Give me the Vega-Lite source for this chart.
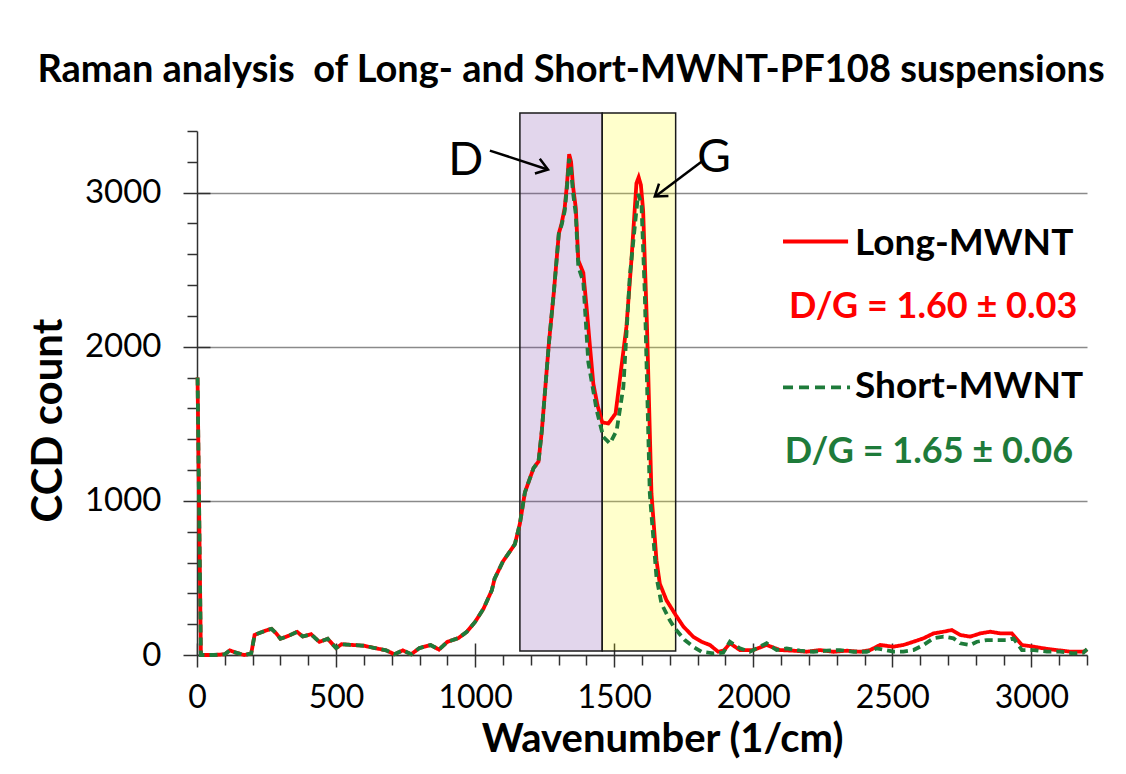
{
  "$schema": "https://vega.github.io/schema/vega-lite/v6.json",
  "width": 890,
  "height": 524,
  "autosize": "none",
  "padding": {"left": 197, "top": 131, "right": 39, "bottom": 119},
  "background": "white",
  "config": {"view": {"stroke": null}, "font": "Lato"},
  "title": {"text": "Raman analysis\u00a0 of Long- and Short-MWNT-PF108 suspensions", "font": "Lato", "fontSize": 38, "fontWeight": "bold", "color": "black", "anchor": "middle", "offset": 22, "dx": -71},
  "datasets": {
    "spectra": [
      {"x": 2, "y": 1800, "s": "Long"}, {"x": 14, "y": 0, "s": "Long"}, {"x": 60, "y": 0, "s": "Long"}, {"x": 100, "y": 5, "s": "Long"}, {"x": 118, "y": 30, "s": "Long"}, {"x": 140, "y": 15, "s": "Long"}, {"x": 170, "y": 0, "s": "Long"}, {"x": 195, "y": 10, "s": "Long"}, {"x": 207, "y": 130, "s": "Long"}, {"x": 220, "y": 140, "s": "Long"}, {"x": 250, "y": 160, "s": "Long"}, {"x": 268, "y": 170, "s": "Long"}, {"x": 285, "y": 140, "s": "Long"}, {"x": 300, "y": 105, "s": "Long"}, {"x": 330, "y": 125, "s": "Long"}, {"x": 360, "y": 150, "s": "Long"}, {"x": 380, "y": 120, "s": "Long"}, {"x": 410, "y": 135, "s": "Long"}, {"x": 440, "y": 85, "s": "Long"}, {"x": 470, "y": 105, "s": "Long"}, {"x": 500, "y": 45, "s": "Long"}, {"x": 520, "y": 70, "s": "Long"}, {"x": 560, "y": 65, "s": "Long"}, {"x": 600, "y": 60, "s": "Long"}, {"x": 640, "y": 45, "s": "Long"}, {"x": 680, "y": 30, "s": "Long"}, {"x": 710, "y": 5, "s": "Long"}, {"x": 740, "y": 30, "s": "Long"}, {"x": 770, "y": 5, "s": "Long"}, {"x": 800, "y": 45, "s": "Long"}, {"x": 840, "y": 65, "s": "Long"}, {"x": 870, "y": 35, "s": "Long"}, {"x": 900, "y": 85, "s": "Long"}, {"x": 940, "y": 110, "s": "Long"}, {"x": 970, "y": 150, "s": "Long"}, {"x": 1000, "y": 215, "s": "Long"}, {"x": 1030, "y": 300, "s": "Long"}, {"x": 1060, "y": 420, "s": "Long"}, {"x": 1070, "y": 495, "s": "Long"}, {"x": 1100, "y": 607, "s": "Long"}, {"x": 1143, "y": 719, "s": "Long"}, {"x": 1161, "y": 853, "s": "Long"}, {"x": 1179, "y": 1055, "s": "Long"}, {"x": 1210, "y": 1212, "s": "Long"}, {"x": 1228, "y": 1256, "s": "Long"}, {"x": 1240, "y": 1458, "s": "Long"}, {"x": 1252, "y": 1727, "s": "Long"}, {"x": 1265, "y": 2018, "s": "Long"}, {"x": 1283, "y": 2354, "s": "Long"}, {"x": 1301, "y": 2735, "s": "Long"}, {"x": 1311, "y": 2800, "s": "Long"}, {"x": 1322, "y": 2900, "s": "Long"}, {"x": 1330, "y": 3050, "s": "Long"}, {"x": 1338, "y": 3250, "s": "Long"}, {"x": 1345, "y": 3200, "s": "Long"}, {"x": 1352, "y": 3040, "s": "Long"}, {"x": 1362, "y": 2900, "s": "Long"}, {"x": 1371, "y": 2560, "s": "Long"}, {"x": 1389, "y": 2480, "s": "Long"}, {"x": 1401, "y": 2250, "s": "Long"}, {"x": 1413, "y": 2000, "s": "Long"}, {"x": 1425, "y": 1760, "s": "Long"}, {"x": 1440, "y": 1620, "s": "Long"}, {"x": 1457, "y": 1510, "s": "Long"}, {"x": 1479, "y": 1502, "s": "Long"}, {"x": 1505, "y": 1567, "s": "Long"}, {"x": 1526, "y": 1870, "s": "Long"}, {"x": 1544, "y": 2130, "s": "Long"}, {"x": 1562, "y": 2563, "s": "Long"}, {"x": 1580, "y": 3061, "s": "Long"}, {"x": 1588, "y": 3100, "s": "Long"}, {"x": 1596, "y": 3050, "s": "Long"}, {"x": 1604, "y": 2887, "s": "Long"}, {"x": 1618, "y": 2130, "s": "Long"}, {"x": 1634, "y": 1048, "s": "Long"}, {"x": 1652, "y": 615, "s": "Long"}, {"x": 1664, "y": 463, "s": "Long"}, {"x": 1688, "y": 355, "s": "Long"}, {"x": 1721, "y": 260, "s": "Long"}, {"x": 1749, "y": 184, "s": "Long"}, {"x": 1784, "y": 119, "s": "Long"}, {"x": 1814, "y": 86, "s": "Long"}, {"x": 1844, "y": 65, "s": "Long"}, {"x": 1874, "y": 21, "s": "Long"}, {"x": 1895, "y": 30, "s": "Long"}, {"x": 1916, "y": 76, "s": "Long"}, {"x": 1952, "y": 32, "s": "Long"}, {"x": 2000, "y": 32, "s": "Long"}, {"x": 2048, "y": 65, "s": "Long"}, {"x": 2096, "y": 32, "s": "Long"}, {"x": 2144, "y": 28, "s": "Long"}, {"x": 2192, "y": 21, "s": "Long"}, {"x": 2240, "y": 32, "s": "Long"}, {"x": 2288, "y": 21, "s": "Long"}, {"x": 2336, "y": 28, "s": "Long"}, {"x": 2384, "y": 21, "s": "Long"}, {"x": 2420, "y": 32, "s": "Long"}, {"x": 2456, "y": 65, "s": "Long"}, {"x": 2504, "y": 54, "s": "Long"}, {"x": 2540, "y": 65, "s": "Long"}, {"x": 2576, "y": 86, "s": "Long"}, {"x": 2612, "y": 108, "s": "Long"}, {"x": 2648, "y": 140, "s": "Long"}, {"x": 2684, "y": 151, "s": "Long"}, {"x": 2714, "y": 162, "s": "Long"}, {"x": 2744, "y": 130, "s": "Long"}, {"x": 2780, "y": 119, "s": "Long"}, {"x": 2816, "y": 140, "s": "Long"}, {"x": 2852, "y": 151, "s": "Long"}, {"x": 2888, "y": 140, "s": "Long"}, {"x": 2930, "y": 140, "s": "Long"}, {"x": 2966, "y": 65, "s": "Long"}, {"x": 3008, "y": 54, "s": "Long"}, {"x": 3044, "y": 43, "s": "Long"}, {"x": 3091, "y": 32, "s": "Long"}, {"x": 3139, "y": 22, "s": "Long"}, {"x": 3187, "y": 22, "s": "Long"}, {"x": 3200, "y": 32, "s": "Long"},
      {"x": 2, "y": 1800, "s": "Short"}, {"x": 14, "y": 0, "s": "Short"}, {"x": 60, "y": 0, "s": "Short"}, {"x": 100, "y": 5, "s": "Short"}, {"x": 118, "y": 30, "s": "Short"}, {"x": 140, "y": 15, "s": "Short"}, {"x": 170, "y": 0, "s": "Short"}, {"x": 195, "y": 10, "s": "Short"}, {"x": 207, "y": 130, "s": "Short"}, {"x": 220, "y": 140, "s": "Short"}, {"x": 250, "y": 160, "s": "Short"}, {"x": 268, "y": 170, "s": "Short"}, {"x": 285, "y": 140, "s": "Short"}, {"x": 300, "y": 105, "s": "Short"}, {"x": 330, "y": 125, "s": "Short"}, {"x": 360, "y": 150, "s": "Short"}, {"x": 380, "y": 120, "s": "Short"}, {"x": 410, "y": 135, "s": "Short"}, {"x": 440, "y": 85, "s": "Short"}, {"x": 470, "y": 105, "s": "Short"}, {"x": 500, "y": 45, "s": "Short"}, {"x": 520, "y": 70, "s": "Short"}, {"x": 560, "y": 65, "s": "Short"}, {"x": 600, "y": 60, "s": "Short"}, {"x": 640, "y": 45, "s": "Short"}, {"x": 680, "y": 30, "s": "Short"}, {"x": 710, "y": 5, "s": "Short"}, {"x": 740, "y": 30, "s": "Short"}, {"x": 770, "y": 5, "s": "Short"}, {"x": 800, "y": 45, "s": "Short"}, {"x": 840, "y": 65, "s": "Short"}, {"x": 870, "y": 35, "s": "Short"}, {"x": 900, "y": 85, "s": "Short"}, {"x": 940, "y": 110, "s": "Short"}, {"x": 970, "y": 150, "s": "Short"}, {"x": 1000, "y": 215, "s": "Short"}, {"x": 1030, "y": 300, "s": "Short"}, {"x": 1060, "y": 420, "s": "Short"}, {"x": 1070, "y": 495, "s": "Short"}, {"x": 1100, "y": 607, "s": "Short"}, {"x": 1143, "y": 719, "s": "Short"}, {"x": 1161, "y": 853, "s": "Short"}, {"x": 1179, "y": 1055, "s": "Short"}, {"x": 1210, "y": 1212, "s": "Short"}, {"x": 1228, "y": 1256, "s": "Short"}, {"x": 1240, "y": 1458, "s": "Short"}, {"x": 1252, "y": 1727, "s": "Short"}, {"x": 1265, "y": 2018, "s": "Short"}, {"x": 1283, "y": 2354, "s": "Short"}, {"x": 1301, "y": 2735, "s": "Short"}, {"x": 1311, "y": 2790, "s": "Short"}, {"x": 1322, "y": 2880, "s": "Short"}, {"x": 1330, "y": 3030, "s": "Short"}, {"x": 1338, "y": 3220, "s": "Short"}, {"x": 1345, "y": 3150, "s": "Short"}, {"x": 1352, "y": 3000, "s": "Short"}, {"x": 1362, "y": 2860, "s": "Short"}, {"x": 1371, "y": 2520, "s": "Short"}, {"x": 1389, "y": 2420, "s": "Short"}, {"x": 1407, "y": 1900, "s": "Short"}, {"x": 1437, "y": 1588, "s": "Short"}, {"x": 1461, "y": 1415, "s": "Short"}, {"x": 1485, "y": 1372, "s": "Short"}, {"x": 1509, "y": 1458, "s": "Short"}, {"x": 1533, "y": 1739, "s": "Short"}, {"x": 1556, "y": 2455, "s": "Short"}, {"x": 1574, "y": 2779, "s": "Short"}, {"x": 1586, "y": 2990, "s": "Short"}, {"x": 1598, "y": 2930, "s": "Short"}, {"x": 1610, "y": 2346, "s": "Short"}, {"x": 1628, "y": 1048, "s": "Short"}, {"x": 1652, "y": 506, "s": "Short"}, {"x": 1670, "y": 333, "s": "Short"}, {"x": 1700, "y": 225, "s": "Short"}, {"x": 1718, "y": 173, "s": "Short"}, {"x": 1754, "y": 97, "s": "Short"}, {"x": 1784, "y": 54, "s": "Short"}, {"x": 1814, "y": 21, "s": "Short"}, {"x": 1856, "y": 10, "s": "Short"}, {"x": 1892, "y": 15, "s": "Short"}, {"x": 1916, "y": 86, "s": "Short"}, {"x": 1952, "y": 43, "s": "Short"}, {"x": 1988, "y": 21, "s": "Short"}, {"x": 2048, "y": 76, "s": "Short"}, {"x": 2084, "y": 32, "s": "Short"}, {"x": 2120, "y": 43, "s": "Short"}, {"x": 2168, "y": 28, "s": "Short"}, {"x": 2216, "y": 21, "s": "Short"}, {"x": 2264, "y": 28, "s": "Short"}, {"x": 2312, "y": 32, "s": "Short"}, {"x": 2360, "y": 21, "s": "Short"}, {"x": 2408, "y": 21, "s": "Short"}, {"x": 2444, "y": 43, "s": "Short"}, {"x": 2504, "y": 22, "s": "Short"}, {"x": 2540, "y": 22, "s": "Short"}, {"x": 2576, "y": 32, "s": "Short"}, {"x": 2612, "y": 65, "s": "Short"}, {"x": 2648, "y": 108, "s": "Short"}, {"x": 2684, "y": 119, "s": "Short"}, {"x": 2720, "y": 108, "s": "Short"}, {"x": 2744, "y": 76, "s": "Short"}, {"x": 2780, "y": 65, "s": "Short"}, {"x": 2804, "y": 86, "s": "Short"}, {"x": 2840, "y": 97, "s": "Short"}, {"x": 2876, "y": 97, "s": "Short"}, {"x": 2912, "y": 97, "s": "Short"}, {"x": 2936, "y": 108, "s": "Short"}, {"x": 2966, "y": 32, "s": "Short"}, {"x": 3008, "y": 32, "s": "Short"}, {"x": 3056, "y": 22, "s": "Short"}, {"x": 3103, "y": 22, "s": "Short"}, {"x": 3151, "y": 11, "s": "Short"}, {"x": 3187, "y": 15, "s": "Short"}, {"x": 3200, "y": 38, "s": "Short"}
    ]
  },
  "layer": [
    {
      "data": {"values": [{}]},
      "mark": {"type": "rect", "fill": "#7030a0", "fillOpacity": 0.2, "stroke": "#1a1a1a", "strokeWidth": 1.5, "clip": false},
      "encoding": {
        "x": {"datum": 1161, "type": "quantitative", "scale": {"domain": [0, 3200], "nice": false}, "axis": null},
        "x2": {"datum": 1457},
        "y": {"datum": 26, "type": "quantitative", "scale": {"domain": [0, 3400], "nice": false}, "axis": null},
        "y2": {"datum": 3517}
      }
    },
    {
      "data": {"values": [{}]},
      "mark": {"type": "rect", "fill": "#ffff00", "fillOpacity": 0.2, "stroke": "#1a1a1a", "strokeWidth": 1.5, "clip": false},
      "encoding": {
        "x": {"datum": 1457, "type": "quantitative", "scale": {"domain": [0, 3200], "nice": false}, "axis": null},
        "x2": {"datum": 1721},
        "y": {"datum": 26, "type": "quantitative", "scale": {"domain": [0, 3400], "nice": false}, "axis": null},
        "y2": {"datum": 3517}
      }
    },
    {
      "data": {"values": [{}]},
      "mark": {"type": "point", "opacity": 0},
      "encoding": {
        "x": {"datum": 0, "type": "quantitative", "scale": {"domain": [0, 3200], "nice": false},
          "axis": {"orient": "bottom", "values": [100, 200, 300, 400, 600, 700, 800, 900, 1100, 1200, 1300, 1400, 1600, 1700, 1800, 1900, 2100, 2200, 2300, 2400, 2600, 2700, 2800, 2900, 3100, 3200], "labels": false, "domain": false, "grid": false, "title": null, "tickSize": 10, "tickColor": "#303030", "tickWidth": 1.5}},
        "y": {"datum": 0, "type": "quantitative", "scale": {"domain": [0, 3400], "nice": false},
          "axis": {"orient": "left", "values": [200, 400, 600, 800, 1200, 1400, 1600, 1800, 2200, 2400, 2600, 2800, 3200, 3400], "labels": false, "domain": false, "grid": false, "title": null, "tickSize": 10, "tickColor": "#303030", "tickWidth": 1.5}}
      }
    },
    {
      "data": {"values": [{}]},
      "mark": {"type": "point", "opacity": 0},
      "encoding": {
        "x": {"datum": 0, "type": "quantitative", "scale": {"domain": [0, 3200], "nice": false},
          "axis": {"orient": "bottom", "values": [0, 500, 1000, 1500, 2000, 2500, 3000], "labels": false, "domain": false, "grid": false, "title": null, "tickSize": -12, "tickColor": "#303030", "tickWidth": 1.5}},
        "y": {"datum": 0, "type": "quantitative", "scale": {"domain": [0, 3400], "nice": false},
          "axis": {"orient": "left", "values": [0, 1000, 2000, 3000], "labels": false, "domain": false, "grid": false, "title": null, "tickSize": -13, "tickColor": "#303030", "tickWidth": 1.5}}
      }
    },
    {
      "data": {"name": "spectra"},
      "mark": {"type": "line", "strokeWidth": 3.8, "interpolate": "linear"},
      "encoding": {
        "x": {"field": "x", "type": "quantitative", "scale": {"domain": [0, 3200], "nice": false},
          "axis": {"orient": "bottom", "values": [0, 500, 1000, 1500, 2000, 2500, 3000], "format": "d", "title": "Wavenumber (1/cm)", "titleFont": "Lato", "titleFontSize": 40, "titleFontWeight": "bold", "titleColor": "black", "titlePadding": 6, "titleX": 465, "labelFont": "Lato", "labelFontSize": 32, "labelColor": "black", "labelPadding": 15, "labelFlush": false, "labelOverlap": false, "tickSize": 12, "tickColor": "#303030", "tickWidth": 1.5, "domainColor": "#303030", "domainWidth": 1.5, "grid": false}},
        "y": {"field": "y", "type": "quantitative", "scale": {"domain": [0, 3400], "nice": false},
          "axis": {"orient": "left", "values": [0, 1000, 2000, 3000], "format": "d", "title": "CCD count", "titleFont": "Lato", "titleFontSize": 42, "titleFontWeight": "bold", "titleColor": "black", "titlePadding": 14, "titleY": 289, "labelFont": "Lato", "labelFontSize": 33, "labelColor": "black", "labelPadding": 22, "labelFlush": false, "labelOverlap": false, "tickSize": 14, "tickColor": "#303030", "tickWidth": 1.5, "domainColor": "#303030", "domainWidth": 1.5, "grid": true, "gridColor": "#8a8a8a", "gridWidth": 1.5}},
        "color": {"field": "s", "type": "nominal", "scale": {"domain": ["Long", "Short"], "range": ["#ff0000", "#1e7b3a"]}, "legend": null},
        "strokeDash": {"field": "s", "type": "nominal", "scale": {"domain": ["Long", "Short"], "range": [[1, 0], [8, 5]]}, "legend": null}
      }
    },
    {
      "data": {"values": [{}]},
      "mark": {"type": "rule", "stroke": "black", "strokeWidth": 2.5},
      "encoding": {
        "x": {"datum": 1053, "type": "quantitative", "axis": null}, "x2": {"datum": 1258},
        "y": {"datum": 3273, "type": "quantitative", "axis": null}, "y2": {"datum": 3152}
      }
    },
    {
      "data": {"values": [{}]},
      "mark": {"type": "point", "shape": "M-1,-0.7L0,0L-1,0.7", "filled": false, "stroke": "black", "strokeWidth": 2.5, "size": 500, "angle": 18, "opacity": 1},
      "encoding": {
        "x": {"datum": 1262, "type": "quantitative", "axis": null},
        "y": {"datum": 3150, "type": "quantitative", "axis": null}
      }
    },
    {
      "data": {"values": [{}]},
      "mark": {"type": "rule", "stroke": "black", "strokeWidth": 2.5},
      "encoding": {
        "x": {"datum": 1815, "type": "quantitative", "axis": null}, "x2": {"datum": 1650},
        "y": {"datum": 3202, "type": "quantitative", "axis": null}, "y2": {"datum": 2979}
      }
    },
    {
      "data": {"values": [{}]},
      "mark": {"type": "point", "shape": "M-1,-0.7L0,0L-1,0.7", "filled": false, "stroke": "black", "strokeWidth": 2.5, "size": 500, "angle": 143, "opacity": 1},
      "encoding": {
        "x": {"datum": 1646, "type": "quantitative", "axis": null},
        "y": {"datum": 2975, "type": "quantitative", "axis": null}
      }
    },
    {
      "data": {"values": [{}]},
      "mark": {"type": "text", "text": "D", "font": "Lato", "fontSize": 46, "color": "black", "align": "center", "baseline": "middle"},
      "encoding": {
        "x": {"datum": 966, "type": "quantitative", "axis": null},
        "y": {"datum": 3208, "type": "quantitative", "axis": null}
      }
    },
    {
      "data": {"values": [{}]},
      "mark": {"type": "text", "text": "G", "font": "Lato", "fontSize": 46, "color": "black", "align": "center", "baseline": "middle"},
      "encoding": {
        "x": {"datum": 1859, "type": "quantitative", "axis": null},
        "y": {"datum": 3227, "type": "quantitative", "axis": null}
      }
    },
    {
      "data": {"values": [{}]},
      "mark": {"type": "rule", "stroke": "#ff0000", "strokeWidth": 3.8},
      "encoding": {
        "x": {"datum": 2107, "type": "quantitative", "axis": null}, "x2": {"datum": 2341},
        "y": {"datum": 2683, "type": "quantitative", "axis": null}
      }
    },
    {
      "data": {"values": [{}]},
      "mark": {"type": "rule", "stroke": "#1e7b3a", "strokeWidth": 3.8, "strokeDash": [10, 6]},
      "encoding": {
        "x": {"datum": 2107, "type": "quantitative", "axis": null}, "x2": {"datum": 2348},
        "y": {"datum": 1737, "type": "quantitative", "axis": null}
      }
    },
    {
      "data": {"values": [{}]},
      "mark": {"type": "text", "text": "Long-MWNT", "font": "Lato", "fontSize": 37, "fontWeight": "bold", "color": "black", "align": "left", "baseline": "middle"},
      "encoding": {
        "x": {"datum": 2366, "type": "quantitative", "axis": null},
        "y": {"datum": 2670, "type": "quantitative", "axis": null}
      }
    },
    {
      "data": {"values": [{}]},
      "mark": {"type": "text", "text": "D/G = 1.60 ± 0.03", "font": "Lato", "fontSize": 36, "fontWeight": "bold", "color": "#ff0000", "align": "right", "baseline": "middle"},
      "encoding": {
        "x": {"datum": 3165, "type": "quantitative", "axis": null},
        "y": {"datum": 2255, "type": "quantitative", "axis": null}
      }
    },
    {
      "data": {"values": [{}]},
      "mark": {"type": "text", "text": "Short-MWNT", "font": "Lato", "fontSize": 37, "fontWeight": "bold", "color": "black", "align": "left", "baseline": "middle"},
      "encoding": {
        "x": {"datum": 2366, "type": "quantitative", "axis": null},
        "y": {"datum": 1737, "type": "quantitative", "axis": null}
      }
    },
    {
      "data": {"values": [{}]},
      "mark": {"type": "text", "text": "D/G = 1.65 ± 0.06", "font": "Lato", "fontSize": 36, "fontWeight": "bold", "color": "#1e7b3a", "align": "right", "baseline": "middle"},
      "encoding": {
        "x": {"datum": 3150, "type": "quantitative", "axis": null},
        "y": {"datum": 1316, "type": "quantitative", "axis": null}
      }
    }
  ],
  "resolve": {"axis": {"x": "independent", "y": "independent"}}
}
